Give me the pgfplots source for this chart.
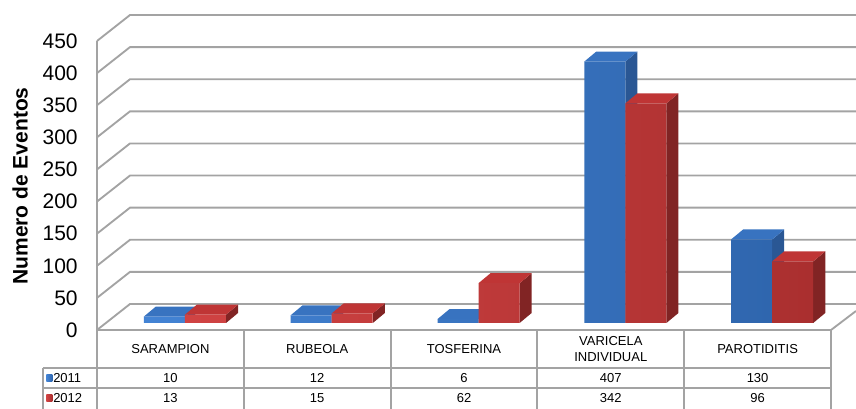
\documentclass[border=0pt]{standalone}
\usepackage{pgfplots}
\pgfplotsset{compat=1.18}
\usepackage{fontspec}
\setmainfont{Liberation Sans}
\definecolor{bfl}{HTML}{4383D4}
\definecolor{bfd}{HTML}{2F66AE}
\definecolor{bt}{HTML}{3873C0}
\definecolor{bs}{HTML}{2A5794}
\definecolor{rfl}{HTML}{D04343}
\definecolor{rfd}{HTML}{AA2F2F}
\definecolor{rt}{HTML}{BF3535}
\definecolor{rs}{HTML}{812424}
\definecolor{gl}{HTML}{A3A3A3}
\begin{document}
\begin{tikzpicture}
% back wall grid (pixel coordinates of the reference)
\begin{scope}[x=0.75pt,y=-0.75pt,shift={(-72.75pt,247.5pt)}]
  \foreach \v in {0,50,...,450}{
    \pgfmathsetmacro\yy{330-\v*0.6422}
    \draw[gl,line width=1.4pt] (97,\yy) -- ++(33,-26) -- (856,\yy-26);
  }
\end{scope}
\begin{axis}[
  scale only axis, width=550.5pt, height=216.75pt,
  xmin=-0.5, xmax=4.5, ymin=0, ymax=450,
  clip=false,
  axis line style={draw=none},
  xtick=\empty, ytick={0,50,...,450},
  major tick length=0pt,
  yticklabel style={font=\fontsize{15.75}{18}\selectfont, xshift=-11pt},
  /pgf/number format/assume math mode=true,
]
% 2011: side and top faces
\addplot[fill=bs, draw=none, yshift=5.25pt] coordinates {(0.099,0)(0.099,10)(0.181,25.6)(0.181,15.6)} -- cycle;
\addplot[fill=bt, draw=none, yshift=5.25pt] coordinates {(-0.181,10)(-0.099,25.6)(0.181,25.6)(0.099,10)} -- cycle;
\addplot[fill=bs, draw=none, yshift=5.25pt] coordinates {(1.099,0)(1.099,12)(1.181,27.6)(1.181,15.6)} -- cycle;
\addplot[fill=bt, draw=none, yshift=5.25pt] coordinates {(0.819,12)(0.901,27.6)(1.181,27.6)(1.099,12)} -- cycle;
\addplot[fill=bs, draw=none, yshift=5.25pt] coordinates {(2.099,0)(2.099,6)(2.181,21.6)(2.181,15.6)} -- cycle;
\addplot[fill=bt, draw=none, yshift=5.25pt] coordinates {(1.819,6)(1.901,21.6)(2.181,21.6)(2.099,6)} -- cycle;
\addplot[fill=bs, draw=none, yshift=5.25pt] coordinates {(3.099,0)(3.099,407)(3.181,422.6)(3.181,15.6)} -- cycle;
\addplot[fill=bt, draw=none, yshift=5.25pt] coordinates {(2.819,407)(2.901,422.6)(3.181,422.6)(3.099,407)} -- cycle;
\addplot[fill=bs, draw=none, yshift=5.25pt] coordinates {(4.099,0)(4.099,130)(4.181,145.6)(4.181,15.6)} -- cycle;
\addplot[fill=bt, draw=none, yshift=5.25pt] coordinates {(3.819,130)(3.901,145.6)(4.181,145.6)(4.099,130)} -- cycle;
% 2011: front faces
\addplot[ybar, bar width=30.75pt, bar shift=-4.5pt, draw=none, left color=bfl, right color=bfd, yshift=5.25pt]
  coordinates {(0,10)(1,12)(2,6)(3,407)(4,130)};
% 2012: side and top faces
\addplot[fill=rs, draw=none, yshift=5.25pt] coordinates {(0.379,0)(0.379,13)(0.461,28.6)(0.461,15.6)} -- cycle;
\addplot[fill=rt, draw=none, yshift=5.25pt] coordinates {(0.099,13)(0.181,28.6)(0.461,28.6)(0.379,13)} -- cycle;
\addplot[fill=rs, draw=none, yshift=5.25pt] coordinates {(1.379,0)(1.379,15)(1.461,30.6)(1.461,15.6)} -- cycle;
\addplot[fill=rt, draw=none, yshift=5.25pt] coordinates {(1.099,15)(1.181,30.6)(1.461,30.6)(1.379,15)} -- cycle;
\addplot[fill=rs, draw=none, yshift=5.25pt] coordinates {(2.379,0)(2.379,62)(2.461,77.6)(2.461,15.6)} -- cycle;
\addplot[fill=rt, draw=none, yshift=5.25pt] coordinates {(2.099,62)(2.181,77.6)(2.461,77.6)(2.379,62)} -- cycle;
\addplot[fill=rs, draw=none, yshift=5.25pt] coordinates {(3.379,0)(3.379,342)(3.461,357.6)(3.461,15.6)} -- cycle;
\addplot[fill=rt, draw=none, yshift=5.25pt] coordinates {(3.099,342)(3.181,357.6)(3.461,357.6)(3.379,342)} -- cycle;
\addplot[fill=rs, draw=none, yshift=5.25pt] coordinates {(4.379,0)(4.379,96)(4.461,111.6)(4.461,15.6)} -- cycle;
\addplot[fill=rt, draw=none, yshift=5.25pt] coordinates {(4.099,96)(4.181,111.6)(4.461,111.6)(4.379,96)} -- cycle;
% 2012: front faces
\addplot[ybar, bar width=30.75pt, bar shift=26.25pt, draw=none, left color=rfl, right color=rfd, yshift=5.25pt]
  coordinates {(0,13)(1,15)(2,62)(3,342)(4,96)};
\end{axis}
% front axis, floor edge, data table
\begin{scope}[x=0.75pt,y=-0.75pt,shift={(-72.75pt,247.5pt)}]
  \draw[gl,line width=1.4pt] (97,41) -- (97,409);
  \draw[gl,line width=1.4pt] (97,330) -- (831,330) -- (856,311);
  \draw[gl,line width=1.4pt] (43,368) -- (831,368);
  \draw[gl,line width=1.4pt] (43,388) -- (831,388);
  \draw[gl,line width=1.4pt] (43,368) -- (43,409);
  \foreach \x in {243.8,390.6,537.4,684.2,831} \draw[gl,line width=1.4pt] (\x,330) -- (\x,409);
  \node[rotate=90, font=\bfseries\fontsize{15.75}{18}\selectfont] at (20,186) {Numero de Eventos};
  \begin{scope}[every node/.style={font=\fontsize{9.75}{11.5}\selectfont, inner sep=0pt}]
    \node at (170.4,349) {SARAMPION};
    \node at (317.2,349) {RUBEOLA};
    \node at (464.0,349) {TOSFERINA};
    \node[align=center] at (610.8,349) {VARICELA\\INDIVIDUAL};
    \node at (757.6,349) {PAROTIDITIS};
    \node at (170.4,378) {10};
    \node at (317.2,378) {12};
    \node at (464.0,378) {6};
    \node at (610.8,378) {407};
    \node at (757.6,378) {130};
    \node at (170.4,398) {13};
    \node at (317.2,398) {15};
    \node at (464.0,398) {62};
    \node at (610.8,398) {342};
    \node at (757.6,398) {96};
    \node[anchor=west] at (53,378) {2011};
    \node[anchor=west] at (53,398) {2012};
  \end{scope}
  \shade[left color=bfl, right color=bfd] (46.5,374.5) rectangle (52.5,381.5);
  \shade[left color=rfl, right color=rfd] (46.5,394.5) rectangle (52.5,401.5);
\end{scope}
\pgfresetboundingbox
\path (-72.75pt,-59.25pt) rectangle (569.25pt,247.5pt);
\end{tikzpicture}
\end{document}
